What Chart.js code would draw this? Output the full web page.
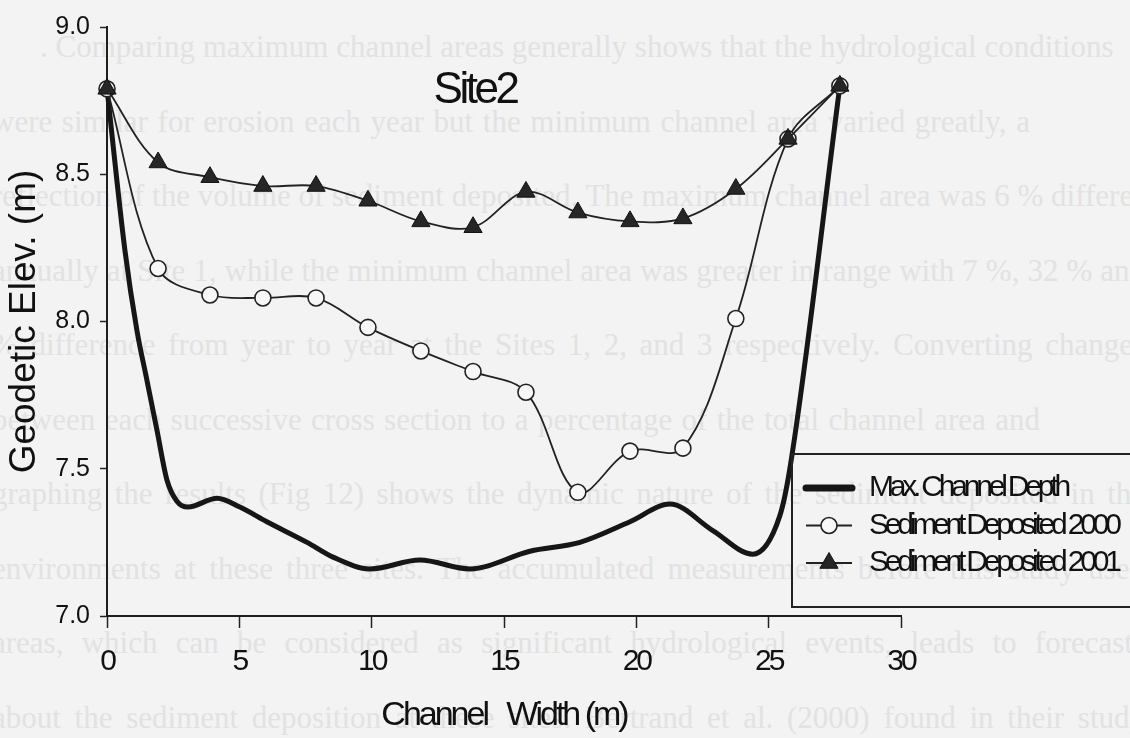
<!DOCTYPE html>
<html lang="en">
<head>
<meta charset="utf-8">
<title>Site2</title>
<script src="https://cdn.jsdelivr.net/npm/chart.js@4.4.1/dist/chart.umd.min.js"></script>
<style>
  html, body { margin: 0; padding: 0; background: #f3f3f3; }
  #caja { position: relative; width: 1130px; height: 738px; overflow: hidden; }
  #fondo { position: absolute; left: 0; top: 0; width: 1130px; height: 738px;
           font: 31px 'Liberation Serif', 'DejaVu Serif', serif; color: #e2e2e2; }
  #fondo div { position: absolute; height: 34px; line-height: 34px; white-space: nowrap;
               text-align: justify; text-align-last: justify; }
  #grafico { position: absolute; left: 0; top: 0; }
</style>
</head>
<body>
<div id="caja">
  <div id="fondo"></div>
  <canvas id="grafico" width="1130" height="738"></canvas>
</div>
<script>
// Site 2 – perfil transversal del cauce

// ───────────────────────── datos
const anchoMax = [0, 0.68, 1.13, 1.51, 1.89, 2.27, 2.64, 3.06, 4.16, 5.02, 6.04, 7.56, 8.54,
                  9.94, 11.82, 13.71, 15.98, 17.87, 19.76, 21.27, 22.89, 24.40, 25.42, 25.80, 27.69];
const cotaMax  = [8.79, 8.24, 7.97, 7.80, 7.63, 7.46, 7.39, 7.37, 7.40, 7.37, 7.32, 7.25, 7.20,
                  7.16, 7.19, 7.16, 7.22, 7.25, 7.32, 7.38, 7.29, 7.21, 7.34, 7.50, 8.80];

const anchoSed = [0, 1.93, 3.89, 5.89, 7.90, 9.86, 11.86, 13.83, 15.83, 17.79, 19.76, 21.76, 23.76, 25.73, 27.69];
const sed2000  = [8.79, 8.18, 8.09, 8.08, 8.08, 7.98, 7.90, 7.83, 7.76, 7.42, 7.56, 7.57, 8.01, 8.62, 8.80];
const sed2001  = [8.79, 8.54, 8.49, 8.46, 8.46, 8.41, 8.34, 8.32, 8.44, 8.37, 8.34, 8.35, 8.45, 8.62, 8.80];

const etiquetas = ['Max. Channel Depth', 'Sediment Deposited 2000', 'Sediment Deposited 2001'];
const tituloSitio = 'Site2';
const tituloX = 'Channel   Width (m)';
const tituloY = 'Geodetic Elev. (m)';

// texto del reverso de la página que se transparenta en el escaneo
const textoFondo = [
  '. Comparing maximum channel areas generally shows that the hydrological conditions',
  'were similar for erosion each year but the minimum channel area varied greatly, a',
  'reflection of the volume of sediment deposited. The maximum channel area was 6 % different',
  'annually at Site 1, while the minimum channel area was greater in range with 7 %, 32 % and',
  '% difference from year to year at the Sites 1, 2, and 3 respectively. Converting changes',
  'between each successive cross section to a percentage of the total channel area and',
  'graphing the results (Fig 12) shows the dynamic nature of the sediment deposited in the',
  'environments at these three sites. The accumulated measurements before this study used',
  'areas, which can be considered as significant hydrological events, leads to forecasts',
  'about the sediment deposition at these sites. Bertrand et al. (2000) found in their study'
];

// ───────────────────────── fondo
const fondo = document.getElementById('fondo');
textoFondo.forEach((t, i) => {
  const d = document.createElement('div');
  const izq = i === 0 ? 40 : -8;
  const der = [1077, 1030, 1145, 1145, 1145, 1040, 1145, 1145, 1145, 1145][i];
  d.style.left  = izq + 'px';
  d.style.width = (der - izq) + 'px';
  d.style.top   = (30 + i * 74.5) + 'px';
  d.textContent = t;
  fondo.appendChild(d);
});

// ───────────────────────── estilo
const fuente = "'Liberation Sans', Arial, sans-serif";
Chart.defaults.font.family = fuente;
Chart.defaults.color = '#111';

// el original usa una letra muy condensada
const espaciado = { x: '-3px', y: '0px' };

const pluginExtras = {
  id: 'extras',
  beforeDraw (chart) {
    Object.values(chart.scales).forEach(s => {
      if (s._condensado) return;
      ['drawTitle', 'drawLabels'].forEach(m => {
        const orig = s[m];
        s[m] = function (...args) {
          this.ctx.letterSpacing = espaciado[this.id] || '0px';
          orig.apply(this, args);
          this.ctx.letterSpacing = '0px';
        };
      });
      s._condensado = true;
    });
  },
  afterDraw (chart) {
    const ctx = chart.ctx;
    const { left, top } = chart.chartArea;
    ctx.save();

    // título dentro del área
    ctx.letterSpacing = '-3.5px';
    ctx.font = `44px ${fuente}`;
    ctx.fillStyle = '#111';
    ctx.textAlign = 'center';
    ctx.textBaseline = 'middle';
    ctx.fillText(tituloSitio, left + 368, top + 64);

    // leyenda con marco
    const lx = 792, ly = 454;
    ctx.lineWidth = 2;
    ctx.strokeStyle = '#222';
    ctx.strokeRect(lx, ly, 360, 153);

    ctx.letterSpacing = '-4.2px';
    ctx.font = `30px ${fuente}`;
    ctx.textAlign = 'left';
    chart.data.datasets.forEach((ds, i) => {
      const y = ly + 34 + i * 37.5;
      ctx.lineCap = i === 0 ? 'round' : 'butt';
      ctx.lineWidth = i === 0 ? 7 : ds.borderWidth;
      ctx.strokeStyle = ds.borderColor;
      ctx.beginPath();
      ctx.moveTo(lx + 14, y);
      ctx.lineTo(lx + 60, y);
      ctx.stroke();
      if (ds.pointRadius > 0) {
        ctx.fillStyle = ds.pointBackgroundColor;
        ctx.strokeStyle = ds.pointBorderColor;
        ctx.lineWidth = ds.pointBorderWidth;
        Chart.helpers.drawPoint(ctx, {
          pointStyle: ds.pointStyle, rotation: 0,
          radius: ds.pointRadius, borderWidth: ds.pointBorderWidth
        }, lx + 37, y);
      }
      ctx.fillStyle = '#111';
      ctx.fillText(ds.label, lx + 77, y);
    });

    ctx.letterSpacing = '0px';
    ctx.restore();
  }
};

// ───────────────────────── gráfica
const ctx = document.getElementById('grafico').getContext('2d');
const chart = new Chart(ctx, {
  type: 'line',
  data: {
    datasets: [
      {
        label: etiquetas[0],
        data: anchoMax.map((x, i) => ({ x, y: cotaMax[i] })),
        borderColor: '#161616',
        borderWidth: 5,
        pointRadius: 0,
        cubicInterpolationMode: 'monotone',
        clip: false,
        order: 2
      },
      {
        label: etiquetas[1],
        data: anchoSed.map((x, i) => ({ x, y: sed2000[i] })),
        borderColor: '#222',
        borderWidth: 1.8,
        tension: 0.35,
        pointStyle: 'circle',
        pointRadius: 8,
        pointBackgroundColor: '#f7f7f7',
        pointBorderColor: '#222',
        pointBorderWidth: 1.6,
        clip: false,
        order: 1
      },
      {
        label: etiquetas[2],
        data: anchoSed.map((x, i) => ({ x, y: sed2001[i] })),
        borderColor: '#222',
        borderWidth: 1.8,
        tension: 0.35,
        pointStyle: 'triangle',
        pointRadius: 10.5,
        pointBackgroundColor: '#262626',
        pointBorderColor: '#111',
        pointBorderWidth: 1,
        clip: false,
        order: 0
      }
    ]
  },
  options: {
    responsive: false,
    animation: false,
    layout: { padding: { top: 27, right: 229, left: 0, bottom: 0 } },
    plugins: {
      legend: { display: false },
      title: { display: false },
      tooltip: { enabled: false }
    },
    scales: {
      x: {
        type: 'linear',
        min: 0,
        max: 30,
        afterFit: s => { s.height = 122; },
        ticks: { stepSize: 5, autoSkip: false, maxRotation: 0, padding: 16, font: { size: 30 } },
        grid: { drawOnChartArea: false, tickLength: 12, tickColor: '#222', tickWidth: 1.5 },
        border: { color: '#1e1e1e', width: 2 },
        title: { display: true, text: tituloX, font: { size: 34 }, padding: { top: 0, bottom: 2 } }
      },
      y: {
        min: 7,
        max: 9,
        afterFit: s => { s.width = 107; },
        ticks: { stepSize: 0.5, padding: 10, font: { size: 25 }, callback: v => v.toFixed(1) },
        grid: { drawOnChartArea: false, tickLength: 7, tickColor: '#222', tickWidth: 1.5 },
        border: { color: '#1e1e1e', width: 2 },
        title: { display: true, text: tituloY, font: { size: 37 }, padding: { top: 3, bottom: 0 } }
      }
    }
  },
  plugins: [pluginExtras]
});
</script>
</body>
</html>
